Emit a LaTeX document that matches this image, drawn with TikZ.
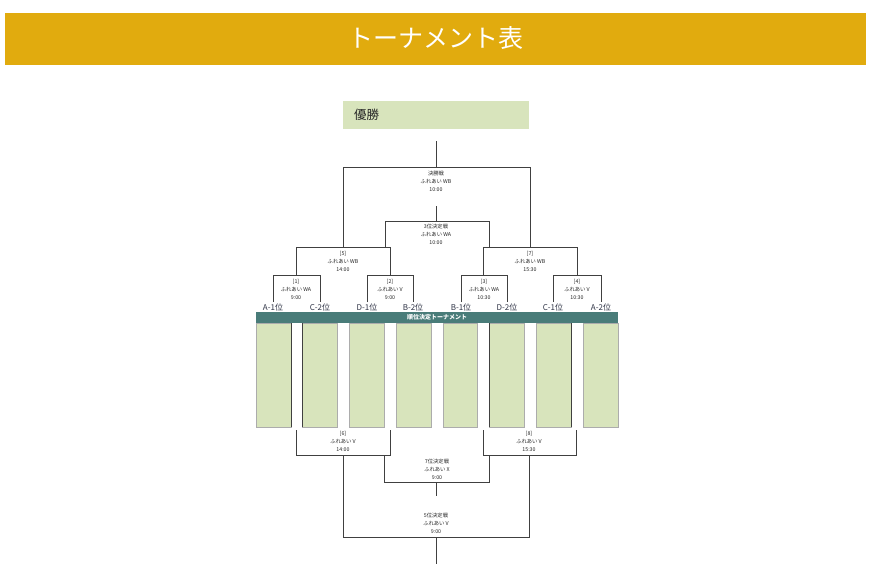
\documentclass[tikz,border=0pt]{standalone}
\usepackage{fontspec}
\setmainfont{Noto Sans CJK JP}
\definecolor{gold}{HTML}{E1AB0E}
\definecolor{lgreen}{HTML}{D8E4BC}
\definecolor{teal2}{HTML}{497C79}
\definecolor{lab}{HTML}{2E3345}
\begin{document}
\begin{tikzpicture}[x=1pt,y=-1pt,
  info/.style={font=\fontsize{5.3}{8}\selectfont, align=center, text=black!85, inner sep=0pt},
  slot/.style={font=\fontsize{8}{9}\selectfont, text=lab, inner sep=0pt},
  br/.style={draw=black!75, line width=0.8pt},
  col/.style={fill=lgreen, draw=gray!65, line width=0.8pt}]
\useasboundingbox (0,0) rectangle (872,575);
% header
\fill[gold] (5,13) rectangle (866,65);
\node[text=white, font=\fontsize{25}{27}\selectfont] (title) at (436,38) {トーナメント表};
% winner box
\fill[lgreen] (343,101) rectangle (529,129);
\node[anchor=west, font=\fontsize{12.5}{14}\selectfont, text=black!85, inner sep=0pt] (win) at (354,115) {優勝};
% top bracket lines
\draw[br] (436,141) -- (436,167);
\draw[br] (343,247) -- (343,167) -- (530,167) -- (530,247);
\draw[br] (436,206) -- (436,221);
\draw[br] (385,247) -- (385,221) -- (489,221) -- (489,247);
\draw[br] (296,275) -- (296,247) -- (390,247) -- (390,275);
\draw[br] (483,275) -- (483,247) -- (577,247) -- (577,275);
\draw[br] (273,302) -- (273,275) -- (320,275) -- (320,302);
\draw[br] (367,302) -- (367,275) -- (413,275) -- (413,302);
\draw[br] (461,302) -- (461,275) -- (507,275) -- (507,302);
\draw[br] (553,302) -- (553,275) -- (601,275) -- (601,302);
% top texts
\node[info] (final) at (436,181) {決勝戦\\ふれあい WB\\10:00};
\node[info] (third) at (436,234) {3位決定戦\\ふれあい WA\\10:00};
\node[info] (m5) at (343,261) {[5]\\ふれあい WB\\14:00};
\node[info] (m7) at (530,261) {[7]\\ふれあい WB\\15:30};
\node[info] (m1) at (296,289) {[1]\\ふれあい WA\\9:00};
\node[info] (m2) at (390,289) {[2]\\ふれあい V\\9:00};
\node[info] (m3) at (484,289) {[3]\\ふれあい WA\\10:30};
\node[info] (m4) at (577,289) {[4]\\ふれあい V\\10:30};
% slot labels
\node[slot] (s1) at (273,307) {A-1位};
\node[slot] (s2) at (320,307) {C-2位};
\node[slot] (s3) at (367,307) {D-1位};
\node[slot] (s4) at (413,307) {B-2位};
\node[slot] (s5) at (461,307) {B-1位};
\node[slot] (s6) at (507,307) {D-2位};
\node[slot] (s7) at (553,307) {C-1位};
\node[slot] (s8) at (601,307) {A-2位};
% banner
\fill[teal2] (256,312) rectangle (618,323);
\node[text=white, font=\fontsize{6}{7}\selectfont\bfseries, inner sep=0pt] (banner) at (437,317.5) {順位決定トーナメント};
% columns
\foreach \a/\b in {256/291, 302/337, 349/384, 396/431, 443/477, 489/524, 536/571, 583/618}
  \draw[col] (\a,323) rectangle (\b,427);
\draw[br] (291,323) -- (291,427);
\draw[br] (302,323) -- (302,427);
\draw[br] (489,323) -- (489,427);
\draw[br] (571,323) -- (571,427);
% bottom bracket lines
\draw[br] (296,430) -- (296,455) -- (390,455) -- (390,430);
\draw[br] (483,430) -- (483,455) -- (576,455) -- (576,430);
\draw[br] (384,455) -- (384,482) -- (489,482) -- (489,455);
\draw[br] (436,482) -- (436,496);
\draw[br] (343,455) -- (343,537) -- (529,537) -- (529,455);
\draw[br] (436,537) -- (436,564);
% bottom texts
\node[info] (m6) at (343,441) {[6]\\ふれあい V\\14:00};
\node[info] (m8) at (529,441) {[8]\\ふれあい V\\15:30};
\node[info] (seventh) at (437,469) {7位決定戦\\ふれあい X\\9:00};
\node[info] (fifth) at (436,523) {5位決定戦\\ふれあい V\\9:00};
\end{tikzpicture}
\end{document}
